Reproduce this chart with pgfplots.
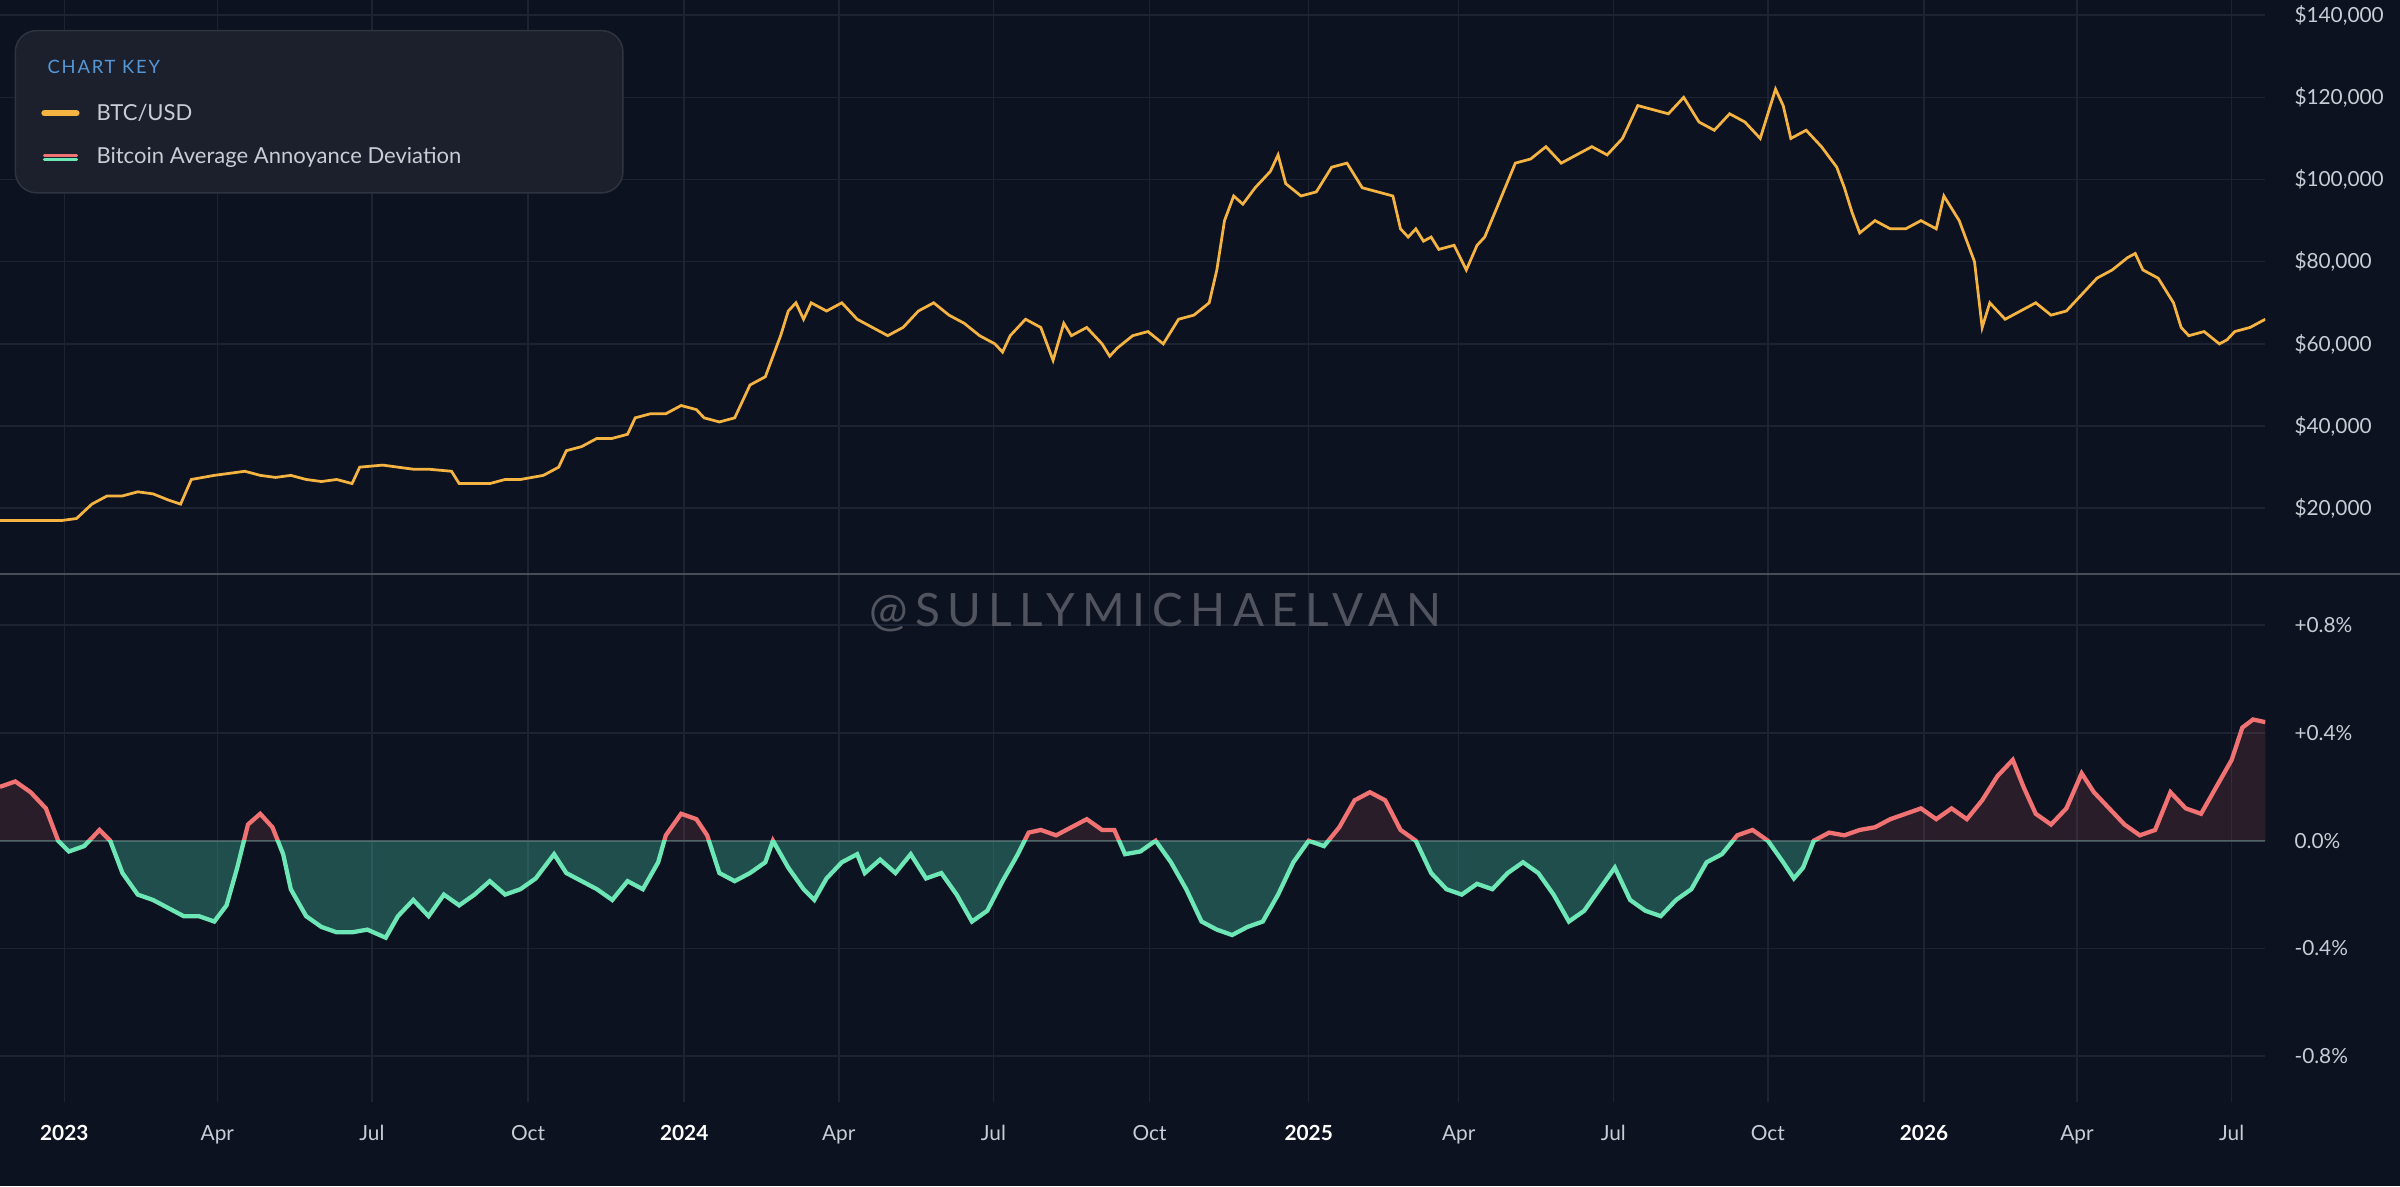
\documentclass[border=0pt]{standalone}
\usepackage{pgfplots}
\pgfplotsset{compat=1.18}
\usepackage{fontspec}
\setmainfont{Lato}
\definecolor{bg}{HTML}{0D1220}
\definecolor{gridc}{HTML}{1C2333}
\definecolor{btc}{HTML}{F5B342}
\definecolor{redl}{HTML}{F07272}
\definecolor{grnl}{HTML}{6EE7B7}
\definecolor{tick}{HTML}{C8CCD4}
\pgfplotstableread{
x y
0 17
20 17
40 17
50 17.5
60 21
70 23
80 23
90 24
100 23.5
110 22
118 21
125 27
140 28
150 28.5
160 29
170 28
180 27.5
190 28
200 27
210 26.5
220 27
230 26
235 30
250 30.5
260 30
270 29.5
280 29.5
295 29
300 26
310 26
320 26
330 27
340 27
355 28
365 30
370 34
380 35
390 37
400 37
410 38
415 42
425 43
435 43
445 45
455 44
460 42
470 41
480 42
490 50
500 52
510 62
515 68
520 70
525 66
530 70
540 68
550 70
560 66
570 64
580 62
590 64
600 68
610 70
620 67
630 65
640 62
650 60
655 58
660 62
670 66
680 64
688 56
695 65
700 62
710 64
720 60
725 57
730 59
740 62
750 63
760 60
765 63
770 66
780 67
790 70
795 78
800 90
806 96
812 94
820 98
830 102
835 106
840 99
850 96
860 97
870 103
880 104
890 98
900 97
910 96
915 88
920 86
925 88
930 85
935 86
940 83
950 84
958 78
965 84
970 86
980 95
990 104
1000 105
1010 108
1020 104
1030 106
1040 108
1050 106
1060 110
1070 118
1080 117
1090 116
1100 120
1110 114
1120 112
1130 116
1140 114
1150 110
1160 122
1165 118
1170 110
1180 112
1190 108
1200 103
1205 98
1210 92
1215 87
1225 90
1235 88
1245 88
1255 90
1265 88
1270 96
1280 90
1290 80
1295 64
1300 70
1310 66
1320 68
1330 70
1340 67
1350 68
1360 72
1370 76
1380 78
1390 81
1395 82
1400 78
1410 76
1420 70
1425 64
1430 62
1440 63
1450 60
1455 61
1460 63
1470 64
1480 66
}\btc
\pgfplotstableread{
x y
0 0.20
10 0.22
20 0.18
30 0.12
38 0.0
45 -0.04
55 -0.02
65 0.04
72 0.0
80 -0.12
90 -0.2
100 -0.22
110 -0.25
120 -0.28
130 -0.28
140 -0.3
148 -0.24
155 -0.1
162 0.06
170 0.1
178 0.05
185 -0.05
190 -0.18
200 -0.28
210 -0.32
220 -0.34
230 -0.34
240 -0.33
252 -0.36
260 -0.28
270 -0.22
280 -0.28
290 -0.2
300 -0.24
310 -0.2
320 -0.15
330 -0.2
340 -0.18
350 -0.14
362 -0.05
370 -0.12
380 -0.15
390 -0.18
400 -0.22
410 -0.15
420 -0.18
430 -0.08
435 0.02
445 0.1
455 0.08
462 0.02
470 -0.12
480 -0.15
490 -0.12
500 -0.08
505 0.0
515 -0.1
525 -0.18
532 -0.22
540 -0.14
550 -0.08
560 -0.05
565 -0.12
575 -0.07
585 -0.12
595 -0.05
605 -0.14
615 -0.12
625 -0.2
635 -0.3
645 -0.26
655 -0.15
665 -0.05
672 0.03
680 0.04
690 0.02
700 0.05
710 0.08
720 0.04
728 0.04
735 -0.05
745 -0.04
755 0.0
765 -0.08
775 -0.18
785 -0.3
795 -0.33
805 -0.35
815 -0.32
825 -0.3
835 -0.2
845 -0.08
855 0.0
865 -0.02
875 0.05
885 0.15
895 0.18
905 0.15
915 0.04
925 0.0
935 -0.12
945 -0.18
955 -0.2
965 -0.16
975 -0.18
985 -0.12
995 -0.08
1005 -0.12
1015 -0.2
1025 -0.3
1035 -0.26
1045 -0.18
1055 -0.1
1065 -0.22
1075 -0.26
1085 -0.28
1095 -0.22
1105 -0.18
1115 -0.08
1125 -0.05
1135 0.02
1145 0.04
1155 0.0
1165 -0.08
1172 -0.14
1178 -0.1
1185 0.0
1195 0.03
1205 0.02
1215 0.04
1225 0.05
1235 0.08
1245 0.1
1255 0.12
1265 0.08
1275 0.12
1285 0.08
1295 0.15
1305 0.24
1315 0.3
1322 0.2
1330 0.1
1340 0.06
1350 0.12
1360 0.25
1368 0.18
1378 0.12
1388 0.06
1398 0.02
1408 0.04
1418 0.18
1428 0.12
1438 0.1
1448 0.2
1458 0.3
1465 0.42
1472 0.45
1480 0.44
}\dev
\begin{document}
\begin{tikzpicture}
\fill[bg] (0,0) rectangle (784pt,-387.5pt);
\useasboundingbox (0,0) rectangle (784pt,-387.5pt);
\pgfplotsset{panel/.style={
  scale only axis, width=740pt, xmin=0, xmax=1480,
  axis line style={draw=none}, major tick length=0pt,
  grid=major, grid style={gridc, line width=0.5pt},
  xtick={42,142,243,345,447,548,649,751,855,953,1054,1155,1257,1357,1458},
  ytick pos=right, yticklabel pos=right,
  yticklabel style={font=\fontsize{6.8}{8}\selectfont, text=tick, anchor=west, xshift=6pt},
  xticklabel style={font=\fontsize{6.8}{8}\selectfont, text=tick},
}}
\begin{axis}[panel, at={(0,0)}, anchor=north west, height=187.5pt,
  ymin=4, ymax=143.7, xticklabels={},
  ytick={20,40,60,80,100,120,140},
  yticklabels={{\$20,000},{\$40,000},{\$60,000},{\$80,000},{\$100,000},{\$120,000},{\$140,000}}]
\addplot[btc, line width=0.9pt] table {\btc};
\end{axis}
\begin{axis}[panel, at={(0,-187.5pt)}, anchor=north west, height=172.5pt,
  ymin=-0.97, ymax=0.99,
  ytick={-0.8,-0.4,0,0.4,0.8},
  yticklabels={-0.8\%,-0.4\%,0.0\%,+0.4\%,+0.8\%},
  xticklabel style={yshift=-4pt},
  xticklabels={\textcolor{white}{\textbf{2023}},Apr,Jul,Oct,\textcolor{white}{\textbf{2024}},Apr,Jul,Oct,\textcolor{white}{\textbf{2025}},Apr,Jul,Oct,\textcolor{white}{\textbf{2026}},Apr,Jul}]
\draw[gray!40!gridc, line width=0.6pt] (axis cs:0,0) -- (axis cs:1480,0);
\begin{scope}
\clip (axis cs:0,0) rectangle (axis cs:1480,1);
\addplot[fill=redl, fill opacity=0.12, draw=none] table {\dev} \closedcycle;
\addplot[redl, line width=1.4pt] table {\dev};
\end{scope}
\begin{scope}
\clip (axis cs:0,0) rectangle (axis cs:1480,-1);
\addplot[fill=grnl!60!teal, fill opacity=0.35, draw=none] table {\dev} \closedcycle;
\addplot[grnl, line width=1.4pt] table {\dev};
\end{scope}
\end{axis}
\draw[white!25!bg, line width=0.6pt] (0,-187.5pt) -- (784pt,-187.5pt);
\begin{scope}[x=0.5pt,y=-0.5pt]
\node[text=white!28!bg, font=\fontsize{15}{17}\selectfont, anchor=center] at (755,400) {\addfontfeature{LetterSpace=16}@SULLYMICHAELVAN};
\draw[rounded corners=7pt, fill=white!6!bg, draw=white!14!bg, line width=0.5pt] (10,20) rectangle (407,126);
\node[anchor=west, text=cyan!60!blue!70!white, font=\fontsize{6}{7}\selectfont] at (24,44) {\addfontfeature{LetterSpace=10}CHART KEY};
\draw[btc, line width=2pt, line cap=round] (29,74) -- (50,74);
\node[anchor=west, text=tick, font=\fontsize{7.2}{8}\selectfont] at (56,74) {BTC/USD};
\draw[redl, line width=1pt, line cap=round] (29,101.5) -- (50,101.5);
\draw[grnl, line width=1pt, line cap=round] (29,104) -- (50,104);
\node[anchor=west, text=tick, font=\fontsize{7.2}{8}\selectfont] at (56,103) {Bitcoin Average Annoyance Deviation};
\end{scope}
\end{tikzpicture}
\end{document}
